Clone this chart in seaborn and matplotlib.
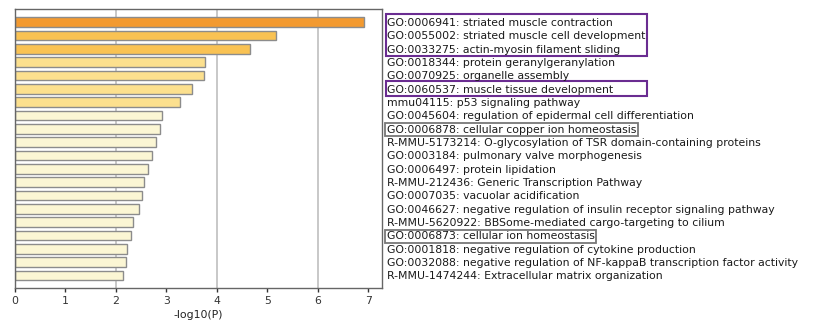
import numpy as np
import pandas as pd
import seaborn as sns
from matplotlib import pyplot as plt
from matplotlib.patches import Rectangle
from matplotlib.transforms import blended_transform_factory

terms = [
    'GO:0006941: striated muscle contraction',
    'GO:0055002: striated muscle cell development',
    'GO:0033275: actin-myosin filament sliding',
    'GO:0018344: protein geranylgeranylation',
    'GO:0070925: organelle assembly',
    'GO:0060537: muscle tissue development',
    'mmu04115: p53 signaling pathway',
    'GO:0045604: regulation of epidermal cell differentiation',
    'GO:0006878: cellular copper ion homeostasis',
    'R-MMU-5173214: O-glycosylation of TSR domain-containing proteins',
    'GO:0003184: pulmonary valve morphogenesis',
    'GO:0006497: protein lipidation',
    'R-MMU-212436: Generic Transcription Pathway',
    'GO:0007035: vacuolar acidification',
    'GO:0046627: negative regulation of insulin receptor signaling pathway',
    'R-MMU-5620922: BBSome-mediated cargo-targeting to cilium',
    'GO:0006873: cellular ion homeostasis',
    'GO:0001818: negative regulation of cytokine production',
    'GO:0032088: negative regulation of NF-kappaB transcription factor activity',
    'R-MMU-1474244: Extracellular matrix organization',
]
logp = [6.92, 5.18, 4.65, 3.77, 3.75, 3.51, 3.27, 2.91, 2.88, 2.80,
        2.71, 2.64, 2.55, 2.51, 2.46, 2.33, 2.30, 2.23, 2.21, 2.14]

# highlighted terms
muscle_groups = [(0, 2), (5, 5)]
ion_terms = [8, 16]

data = pd.DataFrame({'term': terms, 'logp': logp})


def bin_color(v):
    if v > 6:
        return '#f39a30'
    if v > 4:
        return '#f9c253'
    if v > 3:
        return '#fce08e'
    return '#fbf6d4'


palette = {t: bin_color(v) for t, v in zip(data['term'], data['logp'])}

plt.rcParams['font.family'] = ['DejaVu Sans']
fig = plt.figure(figsize=(8.17, 3.2), dpi=100)
ax = fig.add_axes([15 / 817, 32 / 320, 366.7 / 817, 279 / 320])

for g in [2, 4, 6]:
    ax.axvline(g, color='#c4c4c4', lw=1.3, zorder=0)

sns.barplot(data=data, x='logp', y='term', hue='term', palette=palette,
            legend=False, orient='h', width=0.72, edgecolor='#8c8c8c',
            linewidth=1.0, saturation=1, ax=ax, zorder=2)

ax.set_xlim(0, 7.27)
ax.set_ylim(19.94, -0.98)
ax.set_xticks(range(8))
ax.set_xlabel('-log10(P)', fontsize=7.8, labelpad=3, color='#222222')
ax.set_ylabel('')
ax.yaxis.tick_right()
ax.tick_params(axis='y', length=0, pad=3.5, labelsize=7.8, colors='#1a1a1a')
ax.tick_params(axis='x', length=3, width=1, labelsize=7.8, pad=2.5, colors='#333333')
for s in ax.spines.values():
    s.set_color('#666666')
    s.set_linewidth(1.0)

tr = blended_transform_factory(ax.transAxes, ax.transData)
for a, b in muscle_groups:
    ax.add_patch(Rectangle((1.0115, a - 0.6), 0.712, b - a + 1.15,
                           transform=tr, clip_on=False, fill=False,
                           ec='#6a2c91', lw=1.5))

fig.canvas.draw()
labels = ax.get_yticklabels()
for i in ion_terms:
    labels[i].set_bbox(dict(boxstyle='square,pad=0.15', fc='none',
                            ec='#777777', lw=1.3))

fig.savefig('out.png', dpi=100)
